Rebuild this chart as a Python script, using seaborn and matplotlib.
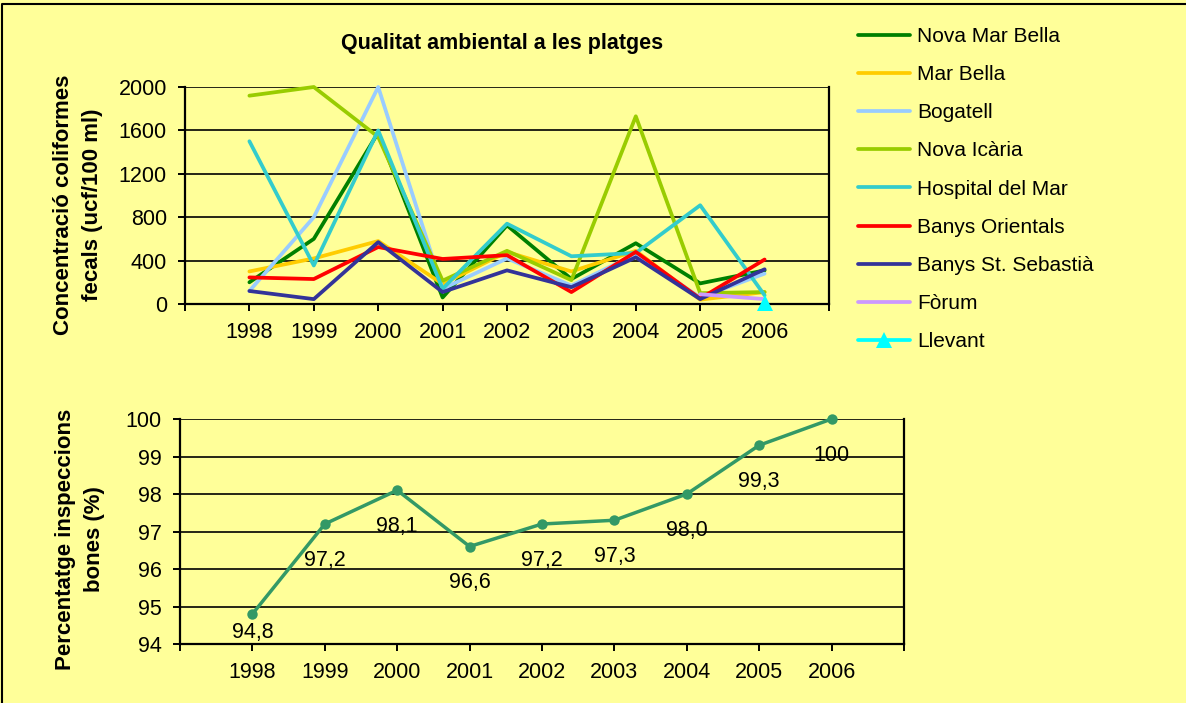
import numpy as np
import matplotlib
matplotlib.use("Agg")
import matplotlib.pyplot as plt
from matplotlib.lines import Line2D
import seaborn as sns

# dades llegides del grafic original
years = ["1998", "1999", "2000", "2001", "2002", "2003", "2004", "2005", "2006"]

nova_mar_bella = [200, 600, 1580, 60, 725, 230, 560, 190, 310]
mar_bella = [300, 420, 580, 185, 480, 300, 490, 40, 110]
bogatell = [120, 800, 2000, 140, 420, 170, 460, 60, 280]
nova_icaria = [1920, 2000, 1540, 215, 490, 220, 1730, 100, 110]
hospital_del_mar = [1500, 355, 1600, 140, 740, 440, 470, 910, 80]
banys_orientals = [245, 230, 525, 415, 450, 110, 480, 50, 410]
banys_st_sebastia = [120, 45, 570, 110, 310, 155, 430, 45, 320]
forum = [None, None, None, None, None, None, None, 90, 45]
llevant = [None, None, None, None, None, None, None, None, 8]

series_names = ["Nova Mar Bella", "Mar Bella", "Bogatell", "Nova Icària",
                "Hospital del Mar", "Banys Orientals", "Banys St. Sebastià",
                "Fòrum", "Llevant"]
series_values = [nova_mar_bella, mar_bella, bogatell, nova_icaria,
                 hospital_del_mar, banys_orientals, banys_st_sebastia,
                 forum, llevant]
series_colors = ["#008000", "#FFCC00", "#99CCFF", "#99CC00", "#33CCCC",
                 "#FF0000", "#333399", "#CC99FF", "#00FFFF"]

pct_bones = [94.8, 97.2, 98.1, 96.6, 97.2, 97.3, 98.0, 99.3, 100.0]

BG = "#FFFF99"

sns.set_theme(style="ticks", rc={
    "figure.facecolor": BG,
    "axes.facecolor": BG,
    "axes.edgecolor": "black",
    "axes.linewidth": 1.6,
    "xtick.major.size": 5,
    "ytick.major.size": 5,
    "xtick.major.width": 1.4,
    "ytick.major.width": 1.4,
    "xtick.color": "black",
    "ytick.color": "black",
    "text.color": "black",
})
plt.rcParams["font.family"] = ["Liberation Sans", "DejaVu Sans"]

W, H = 1186, 703
fig = plt.figure(figsize=(W / 100, H / 100), dpi=100)

def fbox(left, top, right, bottom):
    return [left / W, 1 - bottom / H, (right - left) / W, (bottom - top) / H]

ax1 = fig.add_axes(fbox(185, 87, 829, 304))
ax2 = fig.add_axes(fbox(180, 419, 904, 644))

xpos = np.arange(1, len(years) + 1)

# --- grafic de dalt: coliformes fecals ---
for name, vals, col in zip(series_names, series_values, series_colors):
    y = np.array([np.nan if v is None else v for v in vals], dtype=float)
    mk = "^" if name == "Llevant" else None
    sns.lineplot(x=xpos, y=y, ax=ax1, color=col, linewidth=2.7, label=name,
                 marker=mk, markersize=11, markeredgewidth=0, zorder=3,
                 clip_on=False)

if ax1.get_legend() is not None:
    ax1.get_legend().remove()

ax1.set_xlim(0, 10)
ax1.set_ylim(0, 2000)
ax1.set_yticks(np.arange(0, 2001, 400))
ax1.set_xticks(np.arange(0, 11))
ax1.set_xticklabels([""] + years + [""])
ax1.yaxis.grid(True, color="black", linewidth=1.2)
ax1.set_xlabel("")
ax1.set_ylabel("")
ax1.tick_params(labelsize=15.5, pad=8)
ax1.spines["top"].set_visible(False)

# --- grafic de baix: percentatge inspeccions bones ---
sns.lineplot(x=xpos, y=pct_bones, ax=ax2, color="#339966", linewidth=2.5,
             marker="o", markersize=7.5, markeredgewidth=0, zorder=3,
             clip_on=False)
for xp, v in zip(xpos, pct_bones):
    txt = f"{v:.1f}".replace(".", ",") if v < 100 else f"{v:.0f}"
    off = -26 if v - 1.0 > 94 else -13
    ax2.annotate(txt, (xp, v), xytext=(0, off), textcoords="offset points",
                 ha="center", va="center", fontsize=15.5, zorder=4)

ax2.set_xlim(0, 10)
ax2.set_ylim(94, 100)
ax2.set_yticks(np.arange(94, 101, 1))
ax2.set_xticks(np.arange(0, 11))
ax2.set_xticklabels([""] + years + [""])
ax2.yaxis.grid(True, color="black", linewidth=1.2)
ax2.set_xlabel("")
ax2.set_ylabel("")
ax2.tick_params(labelsize=15.5, pad=8)
ax2.spines["top"].set_visible(False)

# titol i etiquetes
fig.text(502 / W, 1 - 43 / H, "Qualitat ambiental a les platges",
         ha="center", va="center", fontsize=15.5, fontweight="bold")
fig.text(78 / W, 1 - 205 / H, "Concentració coliformes\nfecals (ucf/100 ml)",
         rotation=90, ha="center", va="center", multialignment="center",
         fontsize=16, fontweight="bold", linespacing=1.45)
fig.text(80 / W, 1 - 539 / H, "Percentatge inspeccions\nbones (%)",
         rotation=90, ha="center", va="center", multialignment="center",
         fontsize=16, fontweight="bold", linespacing=1.5)

# llegenda
handles, labels = ax1.get_legend_handles_labels()
fig.legend(handles, labels, loc="upper left",
           bbox_to_anchor=(858 / W, 1 - 27 / H), frameon=False,
           fontsize=15, handlelength=2.5, handletextpad=0.35,
           labelspacing=0.92, borderpad=0, borderaxespad=0)

# vora de la figura
fig.add_artist(Line2D([2 / W, 2 / W, 1], [0, 1 - 4 / H, 1 - 4 / H],
                      transform=fig.transFigure, color="black", linewidth=1.5))

fig.savefig("out.png", dpi=100, facecolor=BG)
